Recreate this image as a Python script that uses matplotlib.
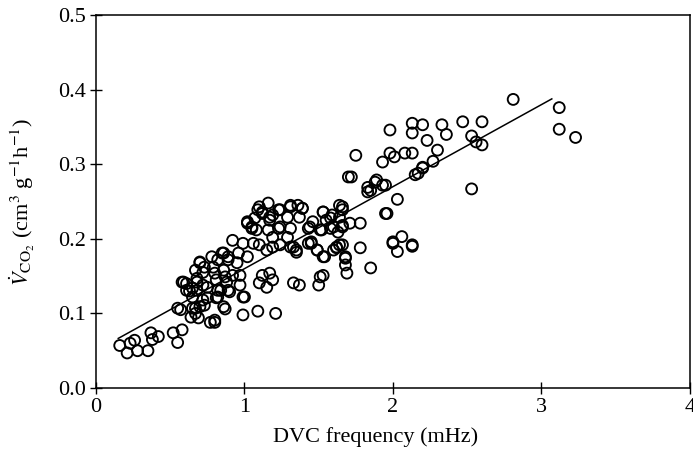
import numpy as np
import matplotlib
matplotlib.use("Agg")
import matplotlib.pyplot as plt

plt.rcParams['font.family'] = ['Liberation Serif', 'DejaVu Serif']
plt.rcParams['mathtext.fontset'] = 'stix'

# DVC frequency (mHz) and VCO2 values
freq = [
    0.16, 0.21, 0.23, 0.26, 0.28, 0.35, 0.37, 0.42, 0.38, 0.52, 0.55, 0.58, 0.55,
    0.58, 0.61, 0.63, 0.64, 0.67, 0.69, 0.70, 0.80, 0.87, 1.00, 0.99, 1.09, 1.21,
    1.16, 1.09, 1.12, 1.07, 1.02, 1.05, 1.08, 1.17, 1.19, 1.24, 1.31, 1.36, 1.37,
    1.29, 1.31, 1.23, 1.19, 1.16, 0.92, 0.99, 1.06, 1.10, 1.15, 1.19, 1.24, 1.33,
    1.35, 0.86, 0.89, 0.96, 1.02, 0.95, 0.82, 0.79, 0.70, 0.72, 0.86, 0.92, 0.97,
    0.81, 0.88, 0.97, 0.68, 0.75, 0.84, 0.90, 0.68, 0.65, 0.72, 0.81, 0.86, 0.70,
    1.12, 1.17, 1.10, 1.15, 1.19, 0.99, 0.80, 1.33, 1.37, 1.43,
    1.70, 1.10, 1.12, 1.02, 1.05, 1.23, 1.31, 1.39, 1.17, 1.24, 1.29, 1.44, 1.53,
    1.58, 1.66, 1.64, 1.51, 1.58, 1.66, 1.45, 1.49, 1.53, 1.62, 1.64, 1.68, 1.68,
    1.31, 1.35,
    2.20, 2.17, 2.15, 1.72, 1.88, 1.93, 1.83, 1.83, 2.03, 1.64, 1.66, 1.39, 1.53,
    1.59, 1.95, 1.46, 1.55, 1.71, 1.78, 1.60, 1.66, 1.43, 1.52, 1.63, 1.45, 1.49,
    1.54, 1.62, 1.66, 1.60, 1.78, 1.68, 1.69, 1.85, 1.51, 1.53, 1.50, 2.00, 2.06,
    2.03, 2.13,
    1.98, 2.13, 2.20, 2.13, 2.33, 2.36, 2.47, 2.60, 2.23, 2.53, 2.56, 2.30, 1.93,
    1.98, 2.01, 2.08, 2.13, 2.27, 2.20, 1.89, 1.95, 1.85, 2.53, 1.96, 2.00, 2.13,
    1.75,
    2.81, 3.12, 3.12, 3.23, 2.60,
    0.59, 0.65, 0.61, 0.57, 0.67, 0.73, 0.75, 0.65, 0.82, 0.89, 0.82, 0.87, 0.80,
    0.73, 0.78, 0.85, 0.89, 0.67, 0.68, 0.72, 0.77,
]
vco2 = [
    0.057, 0.047, 0.060, 0.064, 0.050, 0.050, 0.074, 0.069, 0.065, 0.074, 0.061, 0.078, 0.107,
    0.142, 0.140, 0.130, 0.095, 0.100, 0.094, 0.168, 0.088, 0.106, 0.122, 0.098, 0.103, 0.100,
    0.248, 0.239, 0.234, 0.228, 0.221, 0.216, 0.212, 0.225, 0.232, 0.239, 0.243, 0.245, 0.229,
    0.229, 0.214, 0.214, 0.202, 0.212, 0.198, 0.194, 0.194, 0.192, 0.185, 0.189, 0.192, 0.189,
    0.182, 0.181, 0.176, 0.181, 0.176, 0.168, 0.172, 0.162, 0.169, 0.155, 0.158, 0.151, 0.151,
    0.145, 0.142, 0.138, 0.142, 0.135, 0.131, 0.129, 0.131, 0.122, 0.118, 0.121, 0.109, 0.109,
    0.151, 0.154, 0.141, 0.135, 0.145, 0.122, 0.091, 0.141, 0.138, 0.194,
    0.283, 0.243, 0.236, 0.223, 0.214, 0.239, 0.245, 0.241, 0.229, 0.216, 0.202, 0.216, 0.236,
    0.228, 0.243, 0.229, 0.212, 0.214, 0.216, 0.196, 0.185, 0.176, 0.189, 0.192, 0.176, 0.165,
    0.189, 0.185,
    0.296, 0.288, 0.286, 0.283, 0.276, 0.272, 0.269, 0.263, 0.253, 0.245, 0.239, 0.241, 0.236,
    0.232, 0.234, 0.223, 0.225, 0.221, 0.221, 0.216, 0.218, 0.214, 0.212, 0.209, 0.194, 0.185,
    0.176, 0.188, 0.192, 0.185, 0.188, 0.174, 0.154, 0.161, 0.149, 0.151, 0.138, 0.196, 0.203,
    0.183, 0.192,
    0.346, 0.355, 0.353, 0.342, 0.353, 0.340, 0.357, 0.357, 0.332, 0.338, 0.330, 0.319, 0.303,
    0.315, 0.310, 0.315, 0.315, 0.304, 0.295, 0.279, 0.272, 0.265, 0.267, 0.234, 0.194, 0.190,
    0.312,
    0.387, 0.376, 0.347, 0.336, 0.326,
    0.142, 0.134, 0.131, 0.105, 0.107, 0.111, 0.121, 0.107, 0.131, 0.131, 0.122, 0.149, 0.154,
    0.162, 0.176, 0.181, 0.172, 0.158, 0.147, 0.138, 0.088,
]

# fitted regression line
slope = 0.110
intercept = 0.050
fit_x = [0.15, 3.07]

fig = plt.figure(figsize=(6.93, 4.59), dpi=100)
ax = fig.add_axes([0.1385, 0.1547, 0.857, 0.8123])

ax.scatter(freq, vco2, s=62, facecolors='none', edgecolors='black', linewidths=1.35, zorder=3)
fx = np.array(fit_x)
ax.plot(fx, intercept + slope * fx, color='black', lw=1.1, zorder=2)

ax.set_xlim(0, 4)
ax.set_ylim(0, 0.5)
ax.set_xticks([0, 1, 2, 3, 4])
ax.set_xticklabels(['0', '1', '2', '3', '4'])
ax.set_yticks([0.0, 0.1, 0.2, 0.3, 0.4, 0.5])
ax.set_yticklabels(['0.0', '0.1', '0.2', '0.3', '0.4', '0.5'])
ax.tick_params(direction='inout', length=8, width=1.0, labelsize=16, pad=3)
for s in ax.spines.values():
    s.set_linewidth(1.1)

ax.set_xlabel('DVC frequency (mHz)', fontsize=16)
ax.xaxis.set_label_coords(0.47, -0.105)
ax.set_ylabel(r'$\dot{V}_{\mathrm{CO_2}}$ (cm$^3$ g$^{-1}$h$^{-1}$)', fontsize=16)
ax.yaxis.set_label_coords(-0.1, 0.5)

fig.savefig('out.png', dpi=100)
